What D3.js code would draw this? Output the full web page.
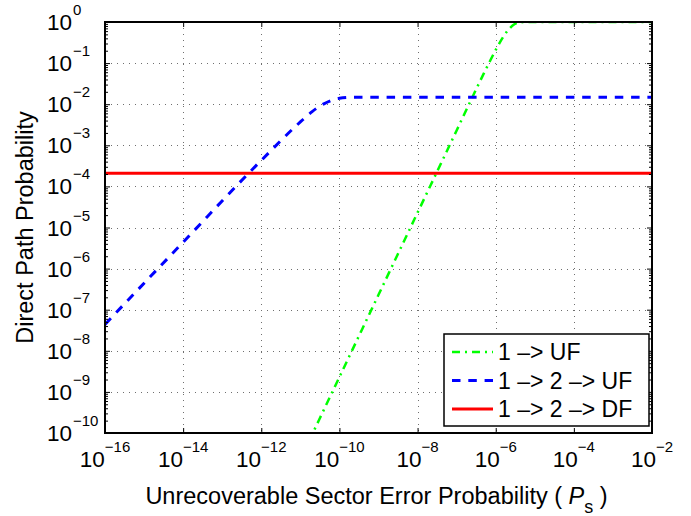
<!DOCTYPE html>
<html>
<head>
<meta charset="utf-8">
<script src="https://cdn.jsdelivr.net/npm/d3@7"></script>
<style>
  html, body { margin: 0; padding: 0; background: #fff; }
  svg text { font-family: "Liberation Sans", Arial, Helvetica, sans-serif; fill: #000; }
</style>
</head>
<body>
<svg id="chart" width="691" height="516"></svg>
<script>
// Axis tick exponents (labels are drawn as 10^k)
const xTickExps = [-16, -14, -12, -10, -8, -6, -4, -2];
const yTickExps = [-10, -9, -8, -7, -6, -5, -4, -3, -2, -1, 0];

// Series: 1 -> UF (direct to unrecoverable failure)
const ufX = [1e-11, 1e-10, 1e-9, 1e-8, 1e-7, 2e-7, 3e-7, 5e-7, 7e-7, 1e-6, 1.5e-6, 2e-6, 3e-6, 4e-6, 6e-6, 1e-5, 1e-2];
const ufY = [2.3e-11, 2.3e-9, 2.3e-7, 2.3e-5, 2.3e-3, 9.3e-3, 2.09e-2, 5.7e-2, 0.108, 0.209, 0.41, 0.608, 0.879, 0.976, 0.9998, 1, 1];

// Series: 1 -> 2 -> UF
const uf2X = [1e-16, 1e-14, 1e-12, 1e-11, 2e-11, 3e-11, 4e-11, 6e-11, 8e-11, 1e-10, 1.5e-10, 2e-10, 1e-9, 1e-2];
const uf2Y = [4.4e-8, 4.4e-6, 4.3e-4, 3.7e-3, 6.6e-3, 8.7e-3, 1.02e-2, 1.22e-2, 1.34e-2, 1.39e-2, 1.45e-2, 1.47e-2, 1.47e-2, 1.47e-2];

// Series: 1 -> 2 -> DF
const dfX = [1e-16, 1e-2];
const dfY = [2.1e-4, 2.1e-4];

const seriesNames = ["1 \u2013> UF", "1 \u2013> 2 \u2013> UF", "1 \u2013> 2 \u2013> DF"];

const W = 691, H = 516;
const margin = { left: 105, top: 22, right: 39, bottom: 83 };
const pw = W - margin.left - margin.right;   // 547
const ph = H - margin.top - margin.bottom;   // 411

const svg = d3.select("#chart");
const g = svg.append("g").attr("transform", `translate(${margin.left},${margin.top})`);

const x = d3.scaleLog().domain([1e-16, 1e-2]).range([0, pw]);
const y = d3.scaleLog().domain([1e-10, 1]).range([ph, 0]);

const xMajor = xTickExps.map(e => Math.pow(10, e));
const yMajor = yTickExps.map(e => Math.pow(10, e));
const yMinor = [];
yTickExps.slice(0, -1).forEach(e => {
  for (let m = 2; m <= 9; m++) yMinor.push(m * Math.pow(10, e));
});

g.append("rect").attr("width", pw).attr("height", ph).attr("fill", "#fff");

// dotted grid on major decades
const grid = g.append("g").attr("class", "grid")
  .attr("stroke", "#6f6f6f").attr("stroke-width", 1).attr("stroke-dasharray", "1,5");
grid.selectAll("line.gx").data(xMajor.slice(1, -1)).join("line")
  .attr("x1", d => Math.round(x(d)) + 0.5).attr("x2", d => Math.round(x(d)) + 0.5)
  .attr("y1", 0).attr("y2", ph);
grid.selectAll("line.gy").data(yMajor.slice(1, -1)).join("line")
  .attr("y1", d => Math.round(y(d)) + 0.5).attr("y2", d => Math.round(y(d)) + 0.5)
  .attr("x1", 0).attr("x2", pw);

// data lines, clipped to the axes box
svg.append("defs").append("clipPath").attr("id", "plotclip")
  .append("rect").attr("width", pw).attr("height", ph);

const line = d3.line()
  .x(d => x(d[0])).y(d => y(d[1]))
  .curve(d3.curveMonotoneX);

const series = [
  { name: seriesNames[0], pts: d3.zip(ufX, ufY), color: "#00ff00", width: 2.5, dash: "8,5,2,5" },
  { name: seriesNames[1], pts: d3.zip(uf2X, uf2Y), color: "#0000ff", width: 3, dash: "8.5,7.8" },
  { name: seriesNames[2], pts: d3.zip(dfX, dfY), color: "#ff0000", width: 3, dash: null }
];

const lines = g.append("g").attr("clip-path", "url(#plotclip)");
series.forEach(s => {
  lines.append("path")
    .attr("d", line(s.pts))
    .attr("fill", "none")
    .attr("stroke", s.color)
    .attr("stroke-width", s.width)
    .attr("stroke-dasharray", s.dash);
});

// axes: ticks pointing inward on all four sides
function styleAxis(sel) {
  sel.select(".domain").remove();
  sel.selectAll(".tick line").attr("stroke", "#000").attr("stroke-width", 1);
  sel.selectAll(".tick text").remove();
}
const axB = g.append("g").attr("transform", `translate(0,${ph})`)
  .call(d3.axisBottom(x).tickValues(xMajor).tickSize(-5).tickFormat(() => ""));
const axT = g.append("g")
  .call(d3.axisTop(x).tickValues(xMajor).tickSize(-5).tickFormat(() => ""));
const axL = g.append("g")
  .call(d3.axisLeft(y).tickValues(yMajor).tickSize(-5).tickFormat(() => ""));
const axR = g.append("g").attr("transform", `translate(${pw},0)`)
  .call(d3.axisRight(y).tickValues(yMajor).tickSize(-5).tickFormat(() => ""));
const axLm = g.append("g")
  .call(d3.axisLeft(y).tickValues(yMinor).tickSize(-3).tickFormat(() => ""));
const axRm = g.append("g").attr("transform", `translate(${pw},0)`)
  .call(d3.axisRight(y).tickValues(yMinor).tickSize(-3).tickFormat(() => ""));
[axB, axT, axL, axR, axLm, axRm].forEach(styleAxis);

// axes box
g.append("rect").attr("width", pw).attr("height", ph)
  .attr("fill", "none").attr("stroke", "#000").attr("stroke-width", 2);

const TICK_FS = 22.5, EXP_FS = 15, LABEL_FS = 23.5, LEGEND_FS = 23;
const expText = e => (e < 0 ? "\u2212" + (-e) : String(e));

// x tick labels: 10^k centred on the tick
xTickExps.forEach(e => {
  const t = g.append("text")
    .attr("x", x(Math.pow(10, e))).attr("y", ph + 34)
    .attr("text-anchor", "middle").attr("font-size", TICK_FS);
  t.append("tspan").text("10");
  t.append("tspan").attr("dy", -15).attr("font-size", EXP_FS).text(expText(e));
});

// y tick labels: base right-aligned, exponent trailing
yTickExps.forEach(e => {
  const yy = y(Math.pow(10, e));
  g.append("text")
    .attr("x", -33).attr("y", yy + 8)
    .attr("text-anchor", "end").attr("font-size", TICK_FS).text("10");
  g.append("text")
    .attr("x", -32).attr("y", yy - 7)
    .attr("text-anchor", "start").attr("font-size", EXP_FS)
    .text(expText(e));
});

// axis titles
const xl = svg.append("text")
  .attr("x", margin.left + pw / 2 - 2).attr("y", 504)
  .attr("text-anchor", "middle").attr("font-size", LABEL_FS);
xl.append("tspan").text("Unrecoverable Sector Error Probability ( ");
xl.append("tspan").attr("font-style", "italic").text("P");
xl.append("tspan").attr("dy", 9).attr("font-size", 18).text("s");
xl.append("tspan").attr("dy", -9).text(" )");

svg.append("text")
  .attr("transform", `translate(33,${margin.top + ph / 2}) rotate(-90)`)
  .attr("text-anchor", "middle").attr("font-size", LABEL_FS)
  .text("Direct Path Probability");

// legend
const lg = svg.append("g").attr("transform", "translate(444,334)");
lg.append("rect").attr("width", 205).attr("height", 92)
  .attr("fill", "#fff").attr("stroke", "#000").attr("stroke-width", 1.5);
series.forEach((s, i) => {
  const cy = 18 + i * 28.5;
  lg.append("line")
    .attr("x1", 8).attr("x2", 49).attr("y1", cy).attr("y2", cy)
    .attr("stroke", s.color).attr("stroke-width", s.width)
    .attr("stroke-dasharray", s.dash);
  lg.append("text")
    .attr("x", 54).attr("y", cy + 8)
    .attr("font-size", LEGEND_FS).text(s.name);
});
</script>
</body>
</html>
